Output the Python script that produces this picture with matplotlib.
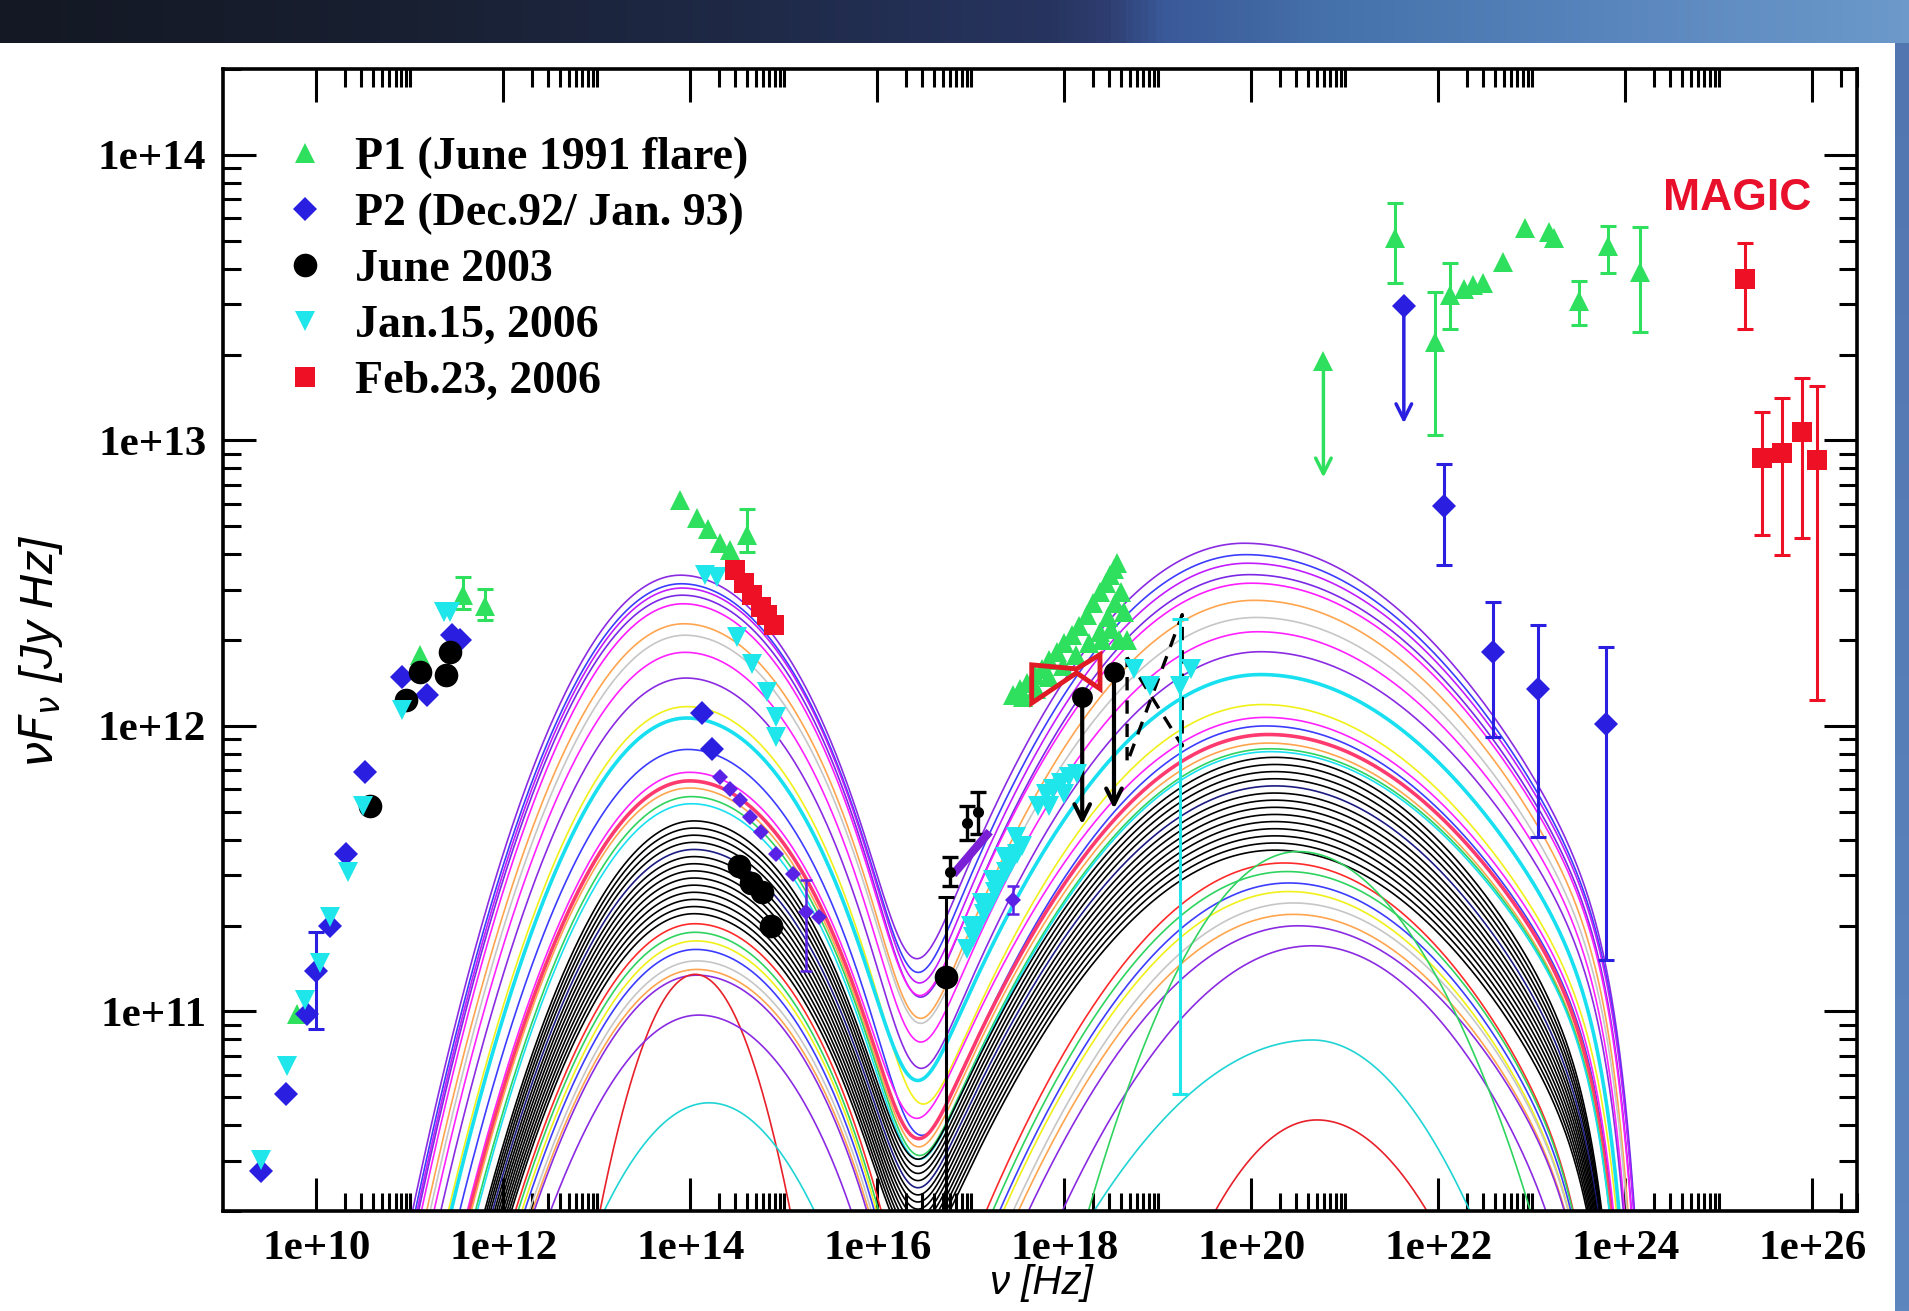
import numpy as np
import matplotlib
matplotlib.use("Agg")
import matplotlib.pyplot as plt
from matplotlib.lines import Line2D
from matplotlib.ticker import FixedLocator, FuncFormatter, NullFormatter
from matplotlib.colors import LinearSegmentedColormap
from matplotlib.patches import Polygon

nan = np.nan

# ------------------------------------------------------------------
# DATA  (log10 of nu [Hz] and log10 of nuFnu [Jy Hz])
# ------------------------------------------------------------------
# P1 (June 1991 flare) - green triangles
p1_lognu = [9.79, 11.11, 11.57, 11.80, 13.89, 14.07, 14.19, 14.32, 14.42, 14.60,
            21.54, 21.96, 22.12, 22.27, 22.37, 22.48, 22.69, 22.93, 23.18, 23.24,
            23.50, 23.81, 24.16]
p1_logflux = [10.99, 12.25, 12.46, 12.42, 12.79, 12.73, 12.69, 12.64, 12.615, 12.67,
              13.71, 13.345, 13.51, 13.53, 13.545, 13.55, 13.625, 13.745, 13.73, 13.71,
              13.49, 13.68, 13.59]
p1_loglo = [nan, nan, 12.41, 12.37, nan, nan, nan, nan, nan, 12.61,
            13.55, 13.02, 13.39, nan, nan, nan, nan, nan, nan, nan,
            13.405, 13.585, 13.38]
p1_loghi = [nan, nan, 12.52, 12.48, nan, nan, nan, nan, nan, 12.76,
            13.83, 13.52, 13.62, nan, nan, nan, nan, nan, nan, nan,
            13.56, 13.75, 13.746]
# P1 X-ray spectrum (dense band of triangles)
p1x_lognu = [17.45, 17.52, 17.60, 17.68, 17.76, 17.84, 17.92, 18.00, 18.08, 18.16,
             18.24, 18.31, 18.38, 18.44, 18.49, 18.53, 18.56,
             17.56, 17.70, 17.84, 17.98, 18.12, 18.26, 18.38, 18.47, 18.54, 18.60, 18.64,
             18.40, 18.50, 18.58, 18.67]
p1x_logflux = [12.11, 12.13, 12.15, 12.18, 12.20, 12.23, 12.26, 12.29, 12.32, 12.35,
               12.39, 12.43, 12.47, 12.50, 12.53, 12.55, 12.57,
               12.10, 12.13, 12.17, 12.21, 12.25, 12.29, 12.33, 12.38, 12.43, 12.47, 12.40,
               12.30, 12.34, 12.30, 12.30]
p1_ul_lognu = [20.77]
p1_ul_logflux = [13.28]
p1_ul_logto = [12.87]

# P2 (Dec.92 / Jan.93) - blue diamonds
p2_lognu = [9.41, 9.67, 9.895, 10.00, 10.14, 10.32, 10.52, 10.91, 11.18, 11.45, 11.53,
            14.12, 14.23, 22.06, 22.58, 23.07, 23.79]
p2_logflux = [10.44, 10.71, 10.99, 11.14, 11.30, 11.55, 11.84, 12.17, 12.11, 12.32, 12.30,
              12.047, 11.92, 12.77, 12.26, 12.13, 12.007]
p2_loglo = [nan, nan, nan, 10.94, nan, nan, nan, nan, nan, nan, nan,
            nan, nan, 12.5625, 11.96, 11.61, 11.18]
p2_loghi = [nan, nan, nan, 11.28, nan, nan, nan, nan, nan, nan, nan,
            nan, nan, 12.917, 12.435, 12.355, 12.275]
p2uv_lognu = [14.32, 14.42, 14.53, 14.64, 14.75, 14.92, 15.10, 15.24, 15.37, 17.45]
p2uv_logflux = [11.82, 11.78, 11.74, 11.68, 11.63, 11.55, 11.48, 11.35, 11.33, 11.39]
p2uv_loglo = [nan, nan, nan, nan, nan, nan, nan, 11.14, nan, 11.34]
p2uv_loghi = [nan, nan, nan, nan, nan, nan, nan, 11.46, nan, 11.44]
p2_xray_lognu = [16.81, 17.20]
p2_xray_logflux = [11.48, 11.63]
p2_ul_lognu = [21.63]
p2_ul_logflux = [13.47]
p2_ul_logto = [13.06]

# June 2003 - black circles
j03_lognu = [10.57, 10.96, 11.11, 11.39, 11.43, 14.52, 14.65, 14.76, 14.86, 16.73]
j03_logflux = [11.72, 12.09, 12.19, 12.18, 12.26, 11.51, 11.45, 11.42, 11.30, 11.12]
j03_loglo = [nan, nan, nan, nan, nan, nan, nan, nan, nan, 10.0]
j03_loghi = [nan, nan, nan, nan, nan, nan, nan, nan, nan, 11.40]
j03x_lognu = [16.78, 16.96, 17.08]
j03x_logflux = [11.49, 11.66, 11.70]
j03x_loglo = [11.44, 11.60, 11.62]
j03x_loghi = [11.54, 11.72, 11.77]
j03_ul_lognu = [18.19, 18.53]
j03_ul_logflux = [12.10, 12.19]
j03_ul_logto = [11.655, 11.71]
j03_bowtie_lognu = [18.67, 19.26, 19.26, 18.67, 18.67]
j03_bowtie_logflux = [12.24, 11.93, 12.39, 11.87, 12.24]

# Jan.15, 2006 - cyan down-triangles
j06_lognu = [9.41, 9.68, 9.88, 10.04, 10.14, 10.34, 10.50, 10.91, 11.36, 11.43,
             14.16, 14.28, 14.495, 14.66, 14.82, 14.91, 14.92,
             16.96, 17.02, 17.08, 17.14, 17.20, 17.26, 17.31, 17.37, 17.43, 17.49, 17.55,
             17.00, 17.12, 17.24, 17.36, 17.48,
             17.72, 17.80, 17.88, 17.96, 18.05, 18.13, 17.84, 18.00,
             18.74, 18.92, 19.24, 19.35]
j06_logflux = [10.48, 10.81, 11.04, 11.17, 11.33, 11.49, 11.72, 12.055, 12.40, 12.40,
               12.53, 12.52, 12.31, 12.216, 12.12, 12.03, 11.96,
               11.22, 11.26, 11.30, 11.34, 11.38, 11.42, 11.455, 11.49, 11.52, 11.55, 11.58,
               11.30, 11.38, 11.46, 11.54, 11.61,
               11.72, 11.76, 11.78, 11.80, 11.82, 11.83, 11.72, 11.76,
               12.20, 12.14, 12.14, 12.20]
j06_loglo = [nan] * 43 + [10.71, nan]
j06_loghi = [nan] * 43 + [12.376, nan]

# Feb.23, 2006 - red squares (optical + MAGIC)
f06_lognu = [14.48, 14.57, 14.66, 14.75, 14.82, 14.89, 25.28, 25.46, 25.68, 25.89, 26.05]
f06_logflux = [12.546, 12.50, 12.46, 12.415, 12.39, 12.355, 13.566, 12.937, 12.957, 13.03, 12.93]
f06_loglo = [nan, nan, nan, nan, nan, nan, 13.39, 12.67, 12.60, 12.66, 12.09]
f06_loghi = [nan, nan, nan, nan, nan, nan, 13.69, 13.098, 13.15, 13.22, 13.19]
f06_bowtie_lognu = [17.65, 18.13, 18.38, 18.38, 18.13, 17.65]
f06_bowtie_logflux = [12.214, 12.20, 12.25, 12.13, 12.186, 12.08]

# SSC model curves: peak positions / heights / curvatures
curve_colors = (['#8a2be2', '#3c3cff', '#c21cff', '#7b28e6', '#ff1cff', '#ffa54f', '#c6c6c6',
                 '#ff22ff', '#8a2be2', '#f0f01a', '#18e0f0', '#3c3cff', '#ff22ff', '#ff3a6e',
                 '#ffa54f', '#2fd35f', '#18e0f0']
                + ['#000000'] * 4 + ['#1a1a80'] + ['#000000'] * 9
                + ['#ff2a2a', '#2fd35f', '#f0f01a', '#3c3cff', '#c6c6c6', '#ffa54f', '#8a2be2',
                   '#e8202a', '#8a2be2', '#20d4d4', '#2fd35f'])
curve_widths = ([1.2] * 10 + [2.6, 1.2, 1.2, 2.6, 1.2, 1.2, 1.2] + [1.2] * 14 + [1.2] * 11)
sync_peak = ([12.53, 12.50, 12.485, 12.46, 12.43, 12.36, 12.32, 12.26, 12.17, 12.07, 12.03,
              11.92, 11.84, 11.81, 11.785, 11.755, 11.73]
             + [11.67, 11.645, 11.62, 11.595, 11.57, 11.545, 11.52, 11.495, 11.47, 11.445,
                11.42, 11.395, 11.37, 11.345]
             + [11.31, 11.28, 11.25, 11.22, 11.18, 11.15, 11.13, 11.13, 10.99, 10.68, 9.5])
sync_nu = ([13.90, 13.91, 13.92, 13.92, 13.93, 13.94, 13.95, 13.95, 13.96, 13.97, 13.97,
            13.98, 14.00, 14.00, 14.00, 14.02, 14.02]
           + [14.05] * 14
           + [14.06, 14.06, 14.07, 14.07, 14.08, 14.08, 14.08, 14.05, 14.10, 14.20, 14.10])
sync_curv_lo = [0.27] * 38 + [0.80, 0.27, 0.30, 0.27]
sync_curv_hi = [0.20] * 38 + [0.80, 0.22, 0.30, 0.27]
sync_cut = [16.25] * 38 + [30.0, 16.3, 30.0, 30.0]
ic_peak = ([12.64, 12.60, 12.57, 12.53, 12.50, 12.44, 12.38, 12.33, 12.26, 12.075, 12.18,
            12.00, 12.03, 11.97, 11.94, 11.92, 11.91]
           + [11.89, 11.865, 11.84, 11.815, 11.79, 11.765, 11.74, 11.715, 11.69, 11.665,
              11.64, 11.615, 11.59, 11.565]
           + [11.52, 11.49, 11.42, 11.45, 11.38, 11.34, 11.30, 10.62, 11.23, 10.90, 11.56])
ic_nu = ([19.92, 19.94, 19.96, 19.98, 20.00, 20.03, 20.05, 20.07, 20.10, 20.12, 20.10,
          20.15, 20.15, 20.18, 20.18, 20.20, 20.20]
         + [20.25] * 14
         + [20.35, 20.38, 20.40, 20.40, 20.45, 20.45, 20.50, 20.70, 20.65, 20.65, 20.50])
ic_rise = ([0.13, 0.13, 0.13, 0.13, 0.125, 0.125, 0.12, 0.12, 0.12, 0.115, 0.115,
            0.115, 0.11, 0.11, 0.11, 0.11, 0.11]
           + [0.105] * 14
           + [0.12] * 7 + [0.27, 0.13, 0.11, 0.25])
ic_fall = ([0.085] * 17 + [0.095] * 14 + [0.11] * 7 + [0.23, 0.14, 0.21, 0.20])
ic_cut = ([23.95, 23.95, 23.95, 23.93, 23.93, 23.9, 23.9, 23.88, 23.88, 23.85, 23.85,
           23.82, 23.82, 23.8, 23.8, 23.8, 23.8]
          + [23.75] * 14
          + [23.65] * 7 + [23.6] * 4)

# axis ticks
xtick_exps = [10, 12, 14, 16, 18, 20, 22, 24, 26]
ytick_exps = [11, 12, 13, 14]

legend_labels = ['P1 (June 1991 flare)', 'P2 (Dec.92/ Jan. 93)', 'June 2003',
                 'Jan.15, 2006', 'Feb.23, 2006']

# ------------------------------------------------------------------
GREEN = '#2fe05f'
BLUE = '#2a1fe0'
UVBLUE = '#5a22e6'
CYAN = '#1ee6ea'
RED = '#ee1024'
BLACK = '#000000'

W, H = 1909, 1311
fig = plt.figure(figsize=(W / 100, H / 100), dpi=100)
fig.patch.set_facecolor('white')

# header band gradient
hdr = fig.add_axes([0, 1 - 43 / H, 1, 43 / H])
hcmap = LinearSegmentedColormap.from_list('hdr', [
    (0.0, '#141824'), (0.2, '#181f30'), (0.4, '#1f2a48'), (0.55, '#27345f'),
    (0.58, '#2e3d70'), (0.61, '#3a5998'), (0.7, '#4672ab'), (0.85, '#5a86be'),
    (1.0, '#6c99ca')])
hdr.imshow(np.linspace(0, 1, 512)[None, :], aspect='auto', cmap=hcmap,
           extent=[0, 1, 0, 1])
hdr.set_axis_off()
# right strip
rs = fig.add_axes([1895 / W, 0, 1 - 1895 / W, 1 - 43 / H])
rcmap = LinearSegmentedColormap.from_list('rs', ['#5276b0', '#5e86be'])
rs.imshow(np.linspace(0, 1, 256)[:, None], aspect='auto', cmap=rcmap, extent=[0, 1, 0, 1])
rs.set_axis_off()

ax = fig.add_axes([223 / W, 100 / H, (1857 - 223) / W, (1211 - 69) / H])
ax.set_xscale('log')
ax.set_yscale('log')

# ---- model curves
lx = np.linspace(9.0, 26.6, 1800)
ln10 = np.log(10.0)
for i in range(len(curve_colors)):
    ds = lx - sync_nu[i]
    s = (sync_peak[i] - np.where(ds < 0, sync_curv_lo[i], sync_curv_hi[i]) * ds ** 2
         - 0.4343 * 10 ** np.clip(lx - sync_cut[i], -50, 50))
    d = lx - ic_nu[i]
    c = (ic_peak[i] - np.where(d < 0, ic_rise[i], ic_fall[i]) * d ** 2
         - 0.4343 * 10 ** np.clip(2 * (lx - ic_cut[i]), -50, 50))
    tot = np.logaddexp(s * ln10, c * ln10) / ln10
    ax.plot(10 ** lx, 10 ** tot, color=curve_colors[i], lw=curve_widths[i], zorder=2,
            solid_capstyle='butt')


def pts(lognu, logf):
    return 10 ** np.asarray(lognu, float), 10 ** np.asarray(logf, float)


def errs(ax, lognu, logf, lo, hi, color, lw=2.2, cap=6, ls='-', z=4):
    lognu = np.asarray(lognu, float); logf = np.asarray(logf, float)
    lo = np.asarray(lo, float); hi = np.asarray(hi, float)
    m = ~np.isnan(lo)
    if not m.any():
        return
    x, y = pts(lognu[m], logf[m])
    yl = y - 10 ** lo[m]
    yh = 10 ** hi[m] - y
    eb = ax.errorbar(x, y, yerr=[yl, yh], fmt='none', ecolor=color, elinewidth=lw,
                     capsize=cap, capthick=lw, zorder=z)
    if ls != '-':
        for lc in eb[2]:
            lc.set_linestyle(ls)


def arrows(ax, lognu, logf, logto, color, lw=2.5):
    for a, b, t in zip(lognu, logf, logto):
        ax.annotate('', xy=(10 ** a, 10 ** t), xytext=(10 ** a, 10 ** b),
                    arrowprops=dict(arrowstyle='->', color=color, lw=lw,
                                    mutation_scale=28, shrinkA=0, shrinkB=0), zorder=4)


# P1 green
errs(ax, p1_lognu, p1_logflux, p1_loglo, p1_loghi, GREEN)
arrows(ax, p1_ul_lognu, p1_ul_logflux, p1_ul_logto, GREEN)
ax.plot(*pts(p1_lognu, p1_logflux), ls='none', marker='^', ms=15, color=GREEN, mew=0, zorder=5)
ax.plot(*pts(p1x_lognu, p1x_logflux), ls='none', marker='^', ms=15, color=GREEN, mew=0, zorder=5)
ax.plot(*pts(p1_ul_lognu, p1_ul_logflux), ls='none', marker='^', ms=15, color=GREEN, mew=0, zorder=5)

# P2 blue
errs(ax, p2_lognu, p2_logflux, p2_loglo, p2_loghi, BLUE)
errs(ax, p2uv_lognu, p2uv_logflux, p2uv_loglo, p2uv_loghi, UVBLUE, lw=1.8, cap=4)
arrows(ax, p2_ul_lognu, p2_ul_logflux, p2_ul_logto, BLUE)
ax.plot(*pts(p2_xray_lognu, p2_xray_logflux), color='#7a1fd6', lw=6, zorder=5,
        solid_capstyle='butt')
ax.plot(*pts(p2_lognu, p2_logflux), ls='none', marker='D', ms=12, color=BLUE, mew=0, zorder=5)
ax.plot(*pts(p2_ul_lognu, p2_ul_logflux), ls='none', marker='D', ms=12, color=BLUE, mew=0, zorder=5)
ax.plot(*pts(p2uv_lognu, p2uv_logflux), ls='none', marker='D', ms=8, color=UVBLUE, mew=0, zorder=5)

# June 2003 black
errs(ax, j03_lognu, j03_logflux, j03_loglo, j03_loghi, BLACK)
errs(ax, j03x_lognu, j03x_logflux, j03x_loglo, j03x_loghi, BLACK, lw=2.4, cap=6)
arrows(ax, j03_ul_lognu, j03_ul_logflux, j03_ul_logto, BLACK, lw=3)
ax.plot(*pts(j03_bowtie_lognu, j03_bowtie_logflux), color=BLACK, lw=2.4, ls=(0, (4, 3)), zorder=4)
ax.plot(*pts(j03_lognu, j03_logflux), ls='none', marker='o', ms=17, color=BLACK, mew=0, zorder=6)
ax.plot(*pts(j03x_lognu, j03x_logflux), ls='none', marker='o', ms=8, color=BLACK, mew=0, zorder=6)
ax.plot(*pts(j03_ul_lognu, j03_ul_logflux), ls='none', marker='o', ms=15, color=BLACK, mew=0, zorder=6)

# Jan 2006 cyan
errs(ax, j06_lognu, j06_logflux, j06_loglo, j06_loghi, CYAN, lw=2.2)
ax.plot(*pts(j06_lognu, j06_logflux), ls='none', marker='v', ms=15, color=CYAN, mew=0, zorder=6)

# Feb 2006 red
errs(ax, f06_lognu, f06_logflux, f06_loglo, f06_loghi, RED)
bx, by = pts(f06_bowtie_lognu, f06_bowtie_logflux)
ax.add_patch(Polygon(np.column_stack([bx, by]), closed=True, fill=False, edgecolor='#e01a24',
                     lw=3.5, zorder=6))
ax.plot(*pts(f06_lognu, f06_logflux), ls='none', marker='s', ms=14, color=RED, mew=0, zorder=6)

# ---- axes
ax.set_xlim(1e9, 3e26)
ax.set_ylim(2e10, 2e14)
ax.xaxis.set_major_locator(FixedLocator([10.0 ** e for e in xtick_exps]))
ax.xaxis.set_minor_locator(FixedLocator([k * 10.0 ** e for e in xtick_exps for k in range(2, 11)]))
ax.yaxis.set_major_locator(FixedLocator([10.0 ** e for e in ytick_exps]))
ax.yaxis.set_minor_locator(FixedLocator([k * 10.0 ** e for e in range(10, 15) for k in range(2, 10)]))
fmt = FuncFormatter(lambda v, p: '1e+%d' % int(round(np.log10(v))))
ax.xaxis.set_major_formatter(fmt)
ax.yaxis.set_major_formatter(fmt)
ax.xaxis.set_minor_formatter(NullFormatter())
ax.yaxis.set_minor_formatter(NullFormatter())
ax.tick_params(which='both', direction='in', top=True, right=True, width=2.2, color='black')
ax.tick_params(which='major', length=24)
ax.tick_params(which='minor', length=13)
ax.tick_params(axis='x', which='major', pad=14)
ax.tick_params(axis='y', which='major', pad=12)
for lab in ax.get_xticklabels() + ax.get_yticklabels():
    lab.set_fontfamily('Liberation Serif')
    lab.set_fontweight('bold')
    lab.set_fontsize(31)
for sp in ax.spines.values():
    sp.set_linewidth(2.6)

plt.rcParams['mathtext.fontset'] = 'custom'
plt.rcParams['mathtext.it'] = 'Liberation Sans:italic'
plt.rcParams['mathtext.rm'] = 'Liberation Sans:italic'
ax.set_ylabel(r'$\nu F_{\nu}$ [Jy Hz]', fontfamily='Liberation Sans', fontstyle='italic',
              fontsize=34)
ax.yaxis.set_label_coords(-0.097, 0.49)
ax.set_xlabel('\u03bd [Hz]', fontfamily='Liberation Sans', fontstyle='italic', fontsize=29)
ax.xaxis.set_label_coords(0.5006, -0.0465)
ax.xaxis.label.set_va('top')

ax.text(0.9266, 0.8866, 'MAGIC', transform=ax.transAxes, ha='center', va='center',
        color='#e8102a', fontweight='bold', fontfamily='Liberation Sans', fontsize=32)

handles = [Line2D([], [], ls='none', marker='^', ms=15, color=GREEN, mew=0),
           Line2D([], [], ls='none', marker='D', ms=12, color=BLUE, mew=0),
           Line2D([], [], ls='none', marker='o', ms=17, color=BLACK, mew=0),
           Line2D([], [], ls='none', marker='v', ms=15, color=CYAN, mew=0),
           Line2D([], [], ls='none', marker='s', ms=14, color=RED, mew=0)]
leg = ax.legend(handles, legend_labels, loc='upper left', bbox_to_anchor=(0.0376, 0.941),
                frameon=False, borderpad=0, borderaxespad=0, handlelength=0.9,
                handletextpad=0.65, labelspacing=0.305,
                prop=dict(family='Liberation Serif', weight='bold', size=33))
leg.set_zorder(10)

fig.savefig('out.png', dpi=100, facecolor='white')
